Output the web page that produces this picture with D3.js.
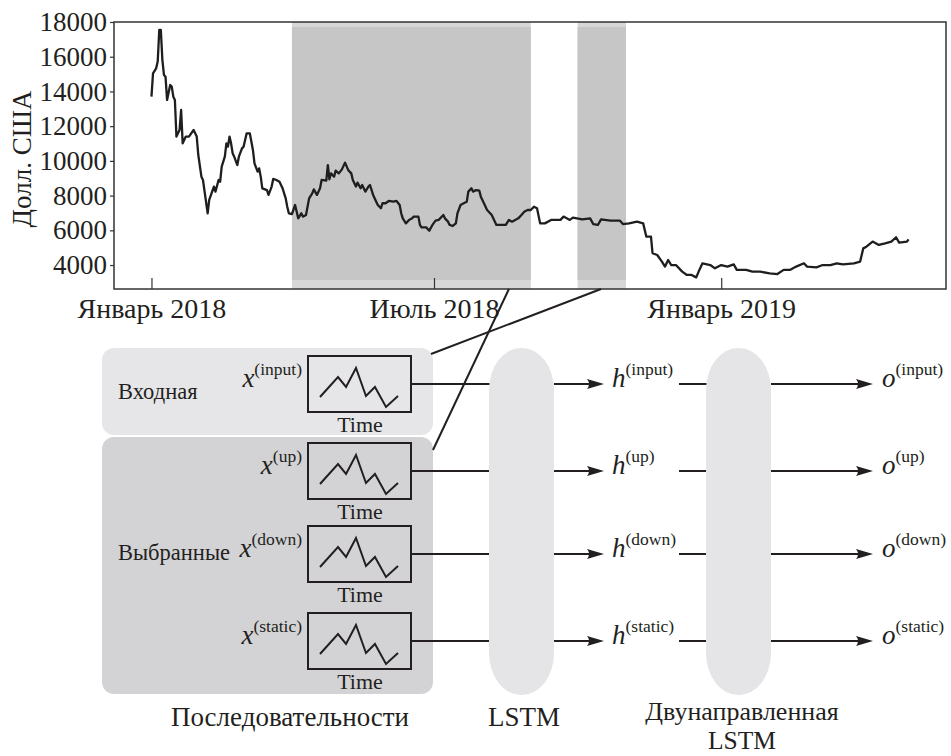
<!DOCTYPE html>
<html><head><meta charset="utf-8">
<script src="https://cdn.jsdelivr.net/npm/d3@7"></script>
<style>
body{margin:0;background:#fff}
svg{display:block}
text{font-family:"Liberation Serif","Times New Roman",serif;fill:#231f20}
</style>
</head><body>
<svg id="c" width="951" height="756"></svg>
<script>
// ---------- data ----------
const priceDates = ["2018-01-01","2018-01-02","2018-01-04","2018-01-05","2018-01-06","2018-01-07","2018-01-08","2018-01-09","2018-01-10","2018-01-11","2018-01-13","2018-01-14","2018-01-15","2018-01-16","2018-01-17","2018-01-19","2018-01-20","2018-01-21","2018-01-23","2018-01-25","2018-01-28","2018-01-30","2018-01-31",
"2018-02-02","2018-02-03","2018-02-06","2018-02-07","2018-02-10","2018-02-11","2018-02-13","2018-02-14","2018-02-15","2018-02-17","2018-02-18","2018-02-19","2018-02-20","2018-02-21","2018-02-22","2018-02-23","2018-02-25","2018-02-26","2018-02-28",
"2018-03-01","2018-03-03","2018-03-05","2018-03-07","2018-03-08","2018-03-10","2018-03-11","2018-03-12","2018-03-13","2018-03-16","2018-03-17","2018-03-19","2018-03-20","2018-03-22","2018-03-24","2018-03-26","2018-03-28","2018-03-29","2018-03-30",
"2018-04-01","2018-04-03","2018-04-04","2018-04-05","2018-04-07","2018-04-08","2018-04-10","2018-04-12","2018-04-14","2018-04-15","2018-04-17","2018-04-19","2018-04-20","2018-04-23","2018-04-24","2018-04-25","2018-04-26","2018-04-28","2018-04-29",
"2018-05-01","2018-05-03","2018-05-05","2018-05-07","2018-05-09","2018-05-10","2018-05-12","2018-05-13","2018-05-15","2018-05-16","2018-05-18","2018-05-20","2018-05-21","2018-05-23","2018-05-25","2018-05-26","2018-05-28","2018-05-29","2018-05-31",
"2018-06-02","2018-06-05","2018-06-07","2018-06-09","2018-06-10","2018-06-11","2018-06-13","2018-06-15","2018-06-17","2018-06-18","2018-06-21","2018-06-22","2018-06-23","2018-06-26","2018-06-28","2018-06-30",
"2018-07-02","2018-07-04","2018-07-07","2018-07-08","2018-07-10","2018-07-11","2018-07-13","2018-07-15","2018-07-16","2018-07-18","2018-07-20","2018-07-22","2018-07-23","2018-07-25","2018-07-26","2018-07-28","2018-07-30","2018-07-31",
"2018-08-02","2018-08-04","2018-08-07","2018-08-09","2018-08-10","2018-08-13","2018-08-16","2018-08-18","2018-08-20","2018-08-22","2018-08-24","2018-08-26","2018-08-28","2018-08-30",
"2018-09-01","2018-09-03","2018-09-05","2018-09-07","2018-09-10","2018-09-14","2018-09-20","2018-09-22","2018-09-26","2018-09-28",
"2018-10-04","2018-10-09","2018-10-11","2018-10-14","2018-10-16","2018-10-22","2018-10-28","2018-10-30",
"2018-11-03","2018-11-08","2018-11-12","2018-11-14","2018-11-17","2018-11-18","2018-11-21","2018-11-24","2018-11-26","2018-11-28","2018-11-30",
"2018-12-03","2018-12-07","2018-12-10","2018-12-13","2018-12-16","2018-12-18","2018-12-20","2018-12-25","2018-12-28",
"2019-01-01","2019-01-05","2019-01-09","2019-01-11","2019-01-17","2019-01-21","2019-01-26",
"2019-02-01","2019-02-06","2019-02-10","2019-02-14","2019-02-18","2019-02-23","2019-02-25",
"2019-03-03","2019-03-07","2019-03-12","2019-03-16","2019-03-20","2019-03-27","2019-03-31",
"2019-04-02","2019-04-04","2019-04-08","2019-04-12","2019-04-16","2019-04-20","2019-04-23","2019-04-25","2019-04-30","2019-05-01"];
const priceValues = [13700,15040,15330,15720,17540,17540,15810,14950,14850,13510,14370,14280,13700,13510,11400,11780,12930,11010,11400,11400,11780,11400,10340,
9090,8900,6980,7750,8520,8230,8900,8800,9670,10240,11010,10820,11400,11010,10440,10240,9760,10240,10720,
10820,11590,11590,10630,9860,9380,9570,9090,8420,8320,8040,8520,8960,8900,8800,8420,7840,7360,6980,
6940,7460,7080,6690,6980,6790,6880,7840,8130,8360,8040,8420,8900,8860,9760,8940,9280,9090,9440,
9280,9510,9900,9480,9280,8900,8520,8750,8420,8610,8230,8520,8610,8040,7650,7460,7270,7560,7560,
7690,7650,7690,7460,6980,6690,6400,6600,6690,6790,6790,6310,6170,6170,5980,6310,
6560,6600,6880,6690,6500,6310,6250,6400,6980,7460,7560,7650,8230,8420,8230,8320,8290,7940,
7560,7170,6880,6500,6310,6310,6310,6600,6500,6600,6690,6880,7080,7170,
7170,7360,7270,6400,6400,6600,6600,6790,6600,6730,
6630,6690,6360,6310,6630,6560,6560,6360,
6400,6500,6400,5640,5640,4680,4580,4200,3910,4290,4000,
4000,3620,3430,3430,3290,3720,4100,4000,3810,
4000,3910,4040,3720,3720,3620,3620,
3520,3480,3720,3720,3910,4100,3910,
3870,4000,4000,4100,4040,4100,4200,
4960,5060,5350,5160,5250,5350,5600,5290,5350,5480];

const xDomain = ["2017-12-08","2019-05-25"];
const yDomain = [2620, 18000];
const yTicks = [4000,6000,8000,10000,12000,14000,16000,18000];
const xTickDates = ["2018-01-01","2018-07-01","2019-01-01"];
const xTickLabels = ["Январь 2018","Июль 2018","Январь 2019"];
const yAxisTitle = "Долл. США";
const highlightStarts = ["2018-04-01","2018-10-01"];
const highlightEnds   = ["2018-09-01","2018-11-01"];
const connectorDates  = ["2018-08-18","2018-10-16"];

const rowKeys = ["input","up","down","static"];
const groupNames = ["Входная","Выбранные"];
const timeLabel = "Time";
const sparkT = [0,1.5,2.17,3,3.83,4.58,5.5,6.5];
const sparkV = [15,35,25,44,16,25,5,16];
const bottomLabels = ["Последовательности","LSTM","Двунаправленная","LSTM"];

// ---------- chart ----------
const svg = d3.select("#c");
const ink = "#231f20";
const parse = d3.utcParse("%Y-%m-%d");
const P = {l:114, r:946, t:22, b:289};
const x = d3.scaleUtc().domain(xDomain.map(parse)).range([P.l, P.r]);
const y = d3.scaleLinear().domain(yDomain).range([P.b, P.t]);

const chart = svg.append("g");
highlightStarts.forEach((s,i)=>{
  const x0 = x(parse(s)), x1 = x(parse(highlightEnds[i]));
  chart.append("rect").attr("x",x0).attr("y",P.t).attr("width",x1-x0).attr("height",P.b-P.t).attr("fill","#d7d7d8");
  chart.append("rect").attr("x",x0).attr("y",P.t+5).attr("width",x1-x0).attr("height",P.b-P.t-14).attr("fill","#c6c6c6");
});

const data = priceDates.map((d,i)=>({date:parse(d), v:priceValues[i]}));
chart.append("path").datum(data)
  .attr("fill","none").attr("stroke","#1e1e1e").attr("stroke-width",2.3).attr("stroke-linejoin","round")
  .attr("d", d3.line().x(d=>x(d.date)).y(d=>y(d.v)));

chart.append("rect").attr("x",P.l).attr("y",P.t).attr("width",P.r-P.l).attr("height",P.b-P.t)
  .attr("fill","none").attr("stroke","#333").attr("stroke-width",1.5);

const yAxis = chart.append("g").attr("transform",`translate(${P.l},0)`)
  .call(d3.axisLeft(y).tickValues(yTicks).tickFormat(d3.format("d")).tickSize(4).tickPadding(3));
yAxis.select(".domain").remove();
yAxis.selectAll("line").attr("stroke","#333").attr("stroke-width",1.2);
yAxis.selectAll("text").attr("font-size",27).attr("fill",ink).style("font-family","Liberation Serif");

const xAxis = chart.append("g").attr("transform",`translate(0,${P.b})`)
  .call(d3.axisBottom(x).tickValues(xTickDates.map(parse)).tickFormat((d,i)=>xTickLabels[i]).tickSizeInner(-11).tickSizeOuter(0).tickPadding(9));
xAxis.select(".domain").remove();
xAxis.selectAll("line").attr("stroke","#333").attr("stroke-width",1.2);
xAxis.selectAll("text").attr("font-size",28).attr("fill",ink).style("font-family","Liberation Serif");

chart.append("text").attr("transform","translate(31,159) rotate(-90)")
  .attr("text-anchor","middle").attr("font-size",27).text(yAxisTitle);

// ---------- diagram ----------
const D = svg.append("g");
const rowY = [384,471,554,641];
D.append("rect").attr("x",102).attr("y",348).attr("width",331).attr("height",87).attr("rx",12).attr("fill","#e6e6e8");
D.append("rect").attr("x",102).attr("y",437).attr("width",331).attr("height",257).attr("rx",12).attr("fill","#d3d3d5");
D.append("text").attr("x",118).attr("y",399).attr("font-size",22.5).text(groupNames[0]);
D.append("text").attr("x",118).attr("y",560).attr("font-size",22.5).text(groupNames[1]);

rowKeys.forEach((k,i)=>{
  const yy=rowY[i];
  D.append("line").attr("x1",411).attr("x2",520).attr("y1",yy).attr("y2",yy).attr("stroke",ink).attr("stroke-width",2.2);
  D.append("line").attr("x1",554).attr("x2",592).attr("y1",yy).attr("y2",yy).attr("stroke",ink).attr("stroke-width",2.2);
  D.append("line").attr("x1",679).attr("x2",740).attr("y1",yy).attr("y2",yy).attr("stroke",ink).attr("stroke-width",2.2);
  D.append("line").attr("x1",771).attr("x2",862).attr("y1",yy).attr("y2",yy).attr("stroke",ink).attr("stroke-width",2.2);
});
[489,706].forEach(bx=>{
  D.append("rect").attr("x",bx).attr("y",348).attr("width",65).attr("height",347).attr("rx",32).attr("ry",42).attr("fill","#e5e5e7");
});
function arrowHead(tip, yy){
  return `M${tip},${yy} L${tip-17},${yy-5} Q${tip-13},${yy} ${tip-17},${yy+5} Z`;
}
rowKeys.forEach((k,i)=>{
  const yy=rowY[i];
  D.append("path").attr("d",arrowHead(604,yy)).attr("fill",ink);
  D.append("path").attr("d",arrowHead(873,yy)).attr("fill",ink);
  const bx=308, by=yy-28;
  D.append("rect").attr("x",bx).attr("y",by).attr("width",103).attr("height",56)
    .attr("fill","none").attr("stroke",ink).attr("stroke-width",2);
  const sx=d3.scaleLinear().domain([0,6.5]).range([bx+12,bx+90]);
  const sy=d3.scaleLinear().domain([0,56]).range([by+56,by]);
  D.append("path").datum(sparkT.map((t,j)=>[t,sparkV[j]]))
    .attr("d",d3.line().x(d=>sx(d[0])).y(d=>sy(d[1])))
    .attr("fill","none").attr("stroke",ink).attr("stroke-width",2).attr("stroke-linejoin","miter");
  D.append("text").attr("x",360).attr("y",yy+48).attr("text-anchor","middle").attr("font-size",22).text(timeLabel);
  const lab=(xp,anchor,sym)=>{
    const t=D.append("text").attr("x",xp).attr("y",yy+3).attr("text-anchor",anchor);
    t.append("tspan").attr("font-style","italic").attr("font-size",27).text(sym);
    t.append("tspan").attr("font-size",17.5).attr("dy",-12).text(`(${k})`);
  };
  lab(302,"end","x");
  lab(612,"start","h");
  lab(882,"start","o");
});

const conEnds = [[433,450],[431,354]];
connectorDates.forEach((d,i)=>{
  D.append("line").attr("x1",x(parse(d))).attr("y1",P.b).attr("x2",conEnds[i][0]).attr("y2",conEnds[i][1])
    .attr("stroke",ink).attr("stroke-width",2);
});

D.append("text").attr("x",290).attr("y",726).attr("text-anchor","middle").attr("font-size",27).text(bottomLabels[0]);
D.append("text").attr("x",524).attr("y",726).attr("text-anchor","middle").attr("font-size",27).text(bottomLabels[1]);
D.append("text").attr("x",742).attr("y",720).attr("text-anchor","middle").attr("font-size",26).text(bottomLabels[2]);
D.append("text").attr("x",742).attr("y",749).attr("text-anchor","middle").attr("font-size",25.5).text(bottomLabels[3]);
</script>
</body></html>
